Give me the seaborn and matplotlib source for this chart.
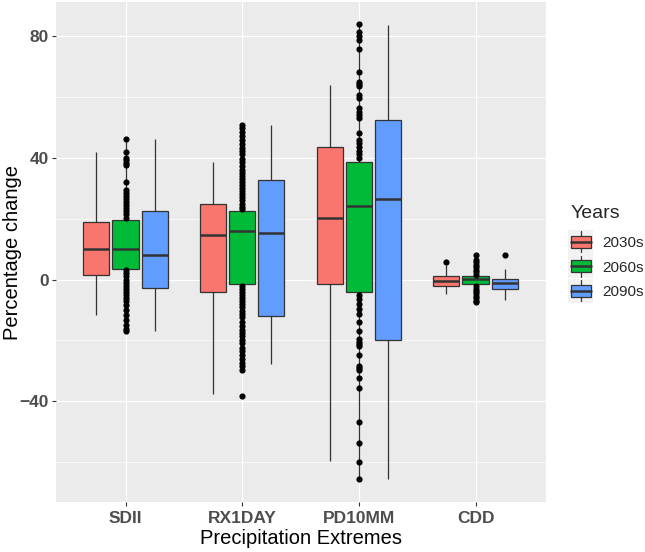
import pandas as pd
import seaborn as sns
import matplotlib.pyplot as plt
import matplotlib.patches as mpatches
from matplotlib.lines import Line2D
from matplotlib.legend_handler import HandlerBase
from matplotlib.ticker import MultipleLocator

extremes = ["SDII", "RX1DAY", "PD10MM", "CDD"]
years = ["2030s", "2060s", "2090s"]
colors = ["#F8766D", "#00BA38", "#619CFF"]

# box statistics, one row per year, one value per extreme
whisker_low = [[-11.7, -37.8, -59.7, -4.8],
               [-16.9, -29.8, -65.6, -7.3],
               [-16.9, -27.8, -65.5, -6.7]]
q1 = [[1.4, -4.1, -1.4, -2.0],
      [3.5, -1.5, -4.0, -1.6],
      [-2.7, -12.0, -19.8, -3.1]]
median = [[9.9, 14.6, 20.1, -0.4],
          [10.1, 16.1, 24.2, 0.1],
          [8.1, 15.4, 26.4, -1.25]]
q3 = [[18.9, 24.7, 43.6, 1.2],
      [19.5, 22.7, 38.8, 1.1],
      [22.6, 32.6, 52.5, 0.1]]
whisker_high = [[41.8, 38.8, 63.9, 4.8],
                [46.2, 50.8, 83.9, 8.1],
                [46.1, 50.8, 83.8, 3.4]]

# outlying points
sdii_2060s_out = [46.2, 42.0, 40.0, 39.2, 38.4, 37.7, 32.2, 29.4, 28.4, 27.4, 26.4,
                  25.4, 24.4, 23.4, 22.4, 21.4, 20.4, 3.0, 2.0, 1.0, 0.0, -1.0,
                  -2.0, -3.0, -4.0, -5.2, -6.1, -7.2, -8.4, -10.0, -11.7, -13.3,
                  -15.0, -16.3, -16.9]
rx1day_2060s_out = [50.8, 49.8, 48.6, 47.2, 45.8, 44.6, 43.4, 42.2, 41.2, 39.8, 38.6,
                    37.2, 36.0, 35.0, 34.0, 33.0, 32.0, 31.0, 30.0, 29.0, 28.0, 27.0,
                    26.0, 25.0, 24.0, 23.2, -2.2, -3.2, -4.2, -5.2, -6.2, -7.2, -8.2,
                    -9.2, -10.2, -11.2, -12.4, -13.9, -15.2, -16.5, -17.6, -18.7,
                    -19.8, -21.0, -22.4, -23.6, -24.9, -26.3, -27.4, -28.6, -29.8, -38.2]
pd10mm_2060s_out = [83.9, 81.3, 80.2, 78.8, 75.8, 68.2, 65.1, 64.4, 63.8, 60.6, 59.6,
                    56.3, 55.2, 54.1, 53.0, 48.1, 45.9, 44.8, 43.6, 42.4, 41.2, 39.9,
                    -5.1, -6.5, -8.1, -9.8, -11.4, -13.9, -16.8, -19.7, -20.4, -21.2,
                    -21.9, -24.8, -28.5, -29.2, -29.8, -32.5, -35.8, -46.8, -53.7,
                    -59.9, -65.6]
cdd_2030s_out = [5.9]
cdd_2060s_out = [8.1, 6.4, 5.6, 4.8, 4.0, 3.2, 2.4, 1.6, -2.2, -3.0, -3.8, -4.6,
                 -5.4, -6.2, -7.0, -7.3]
cdd_2090s_out = [8.1]

rows = []
for i, yr in enumerate(years):
    for j, ext in enumerate(extremes):
        for v in (whisker_low[i][j], q1[i][j], median[i][j], q3[i][j], whisker_high[i][j]):
            rows.append({"Extreme": ext, "Years": yr, "value": v})
box_df = pd.DataFrame(rows)

out_groups = [("SDII", "2060s", sdii_2060s_out), ("RX1DAY", "2060s", rx1day_2060s_out),
              ("PD10MM", "2060s", pd10mm_2060s_out), ("CDD", "2030s", cdd_2030s_out),
              ("CDD", "2060s", cdd_2060s_out), ("CDD", "2090s", cdd_2090s_out)]
out_rows = []
for ext, yr, vals in out_groups:
    for v in vals:
        out_rows.append({"Extreme": ext, "Years": yr, "value": v,
                         "xpos": extremes.index(ext) + (years.index(yr) - 1) * 0.25})
out_df = pd.DataFrame(out_rows)


class BoxKey(HandlerBase):
    # ggplot-like legend key: grey square, whisker, box and median
    def create_artists(self, legend, orig_handle, xdescent, ydescent, width, height,
                       fontsize, trans):
        x0, y0 = -xdescent, -ydescent
        cx, cy = x0 + width / 2, y0 + height / 2
        bg = mpatches.Rectangle((x0 - 1.8, cy - 8.6), width + 3.6, 17.2,
                                facecolor="#F2F2F2", edgecolor="none", transform=trans)
        whisk = Line2D([cx, cx], [cy - 7.5, cy + 7.5], color="#333333", lw=0.9,
                       transform=trans)
        box = mpatches.Rectangle((x0, y0), width, height,
                                 facecolor=orig_handle.get_facecolor(),
                                 edgecolor="#333333", lw=0.9, transform=trans)
        med = Line2D([x0, x0 + width], [cy, cy], color="#333333", lw=1.8,
                     transform=trans)
        return [bg, whisk, box, med]


sns.set_theme(style="darkgrid", rc={"axes.facecolor": "#EBEBEB", "grid.color": "white"})
plt.rcParams["font.family"] = ["Liberation Sans", "DejaVu Sans"]

fig = plt.figure(figsize=(6.45, 5.52), dpi=100)
ax = fig.add_axes([55.5 / 645, 50 / 552, 490 / 645, 500 / 552])

sns.boxplot(data=box_df, x="Extreme", y="value", hue="Years", order=extremes,
            hue_order=years, palette=colors, saturation=1, width=0.75, gap=0.1,
            whis=(0, 100), showfliers=False, showcaps=False, linewidth=0.9,
            linecolor="#333333", medianprops={"linewidth": 1.8}, legend=False, ax=ax)
sns.scatterplot(data=out_df, x="xpos", y="value", color="black", s=20,
                linewidth=0, legend=False, zorder=4, ax=ax)

ax.set_xlim(-0.6, 3.6)
ax.set_ylim(-73.2, 91.3)
ax.set_xticks(range(len(extremes)))
ax.set_xticklabels(extremes)
ax.set_yticks([-40, 0, 40, 80])
ax.yaxis.set_minor_locator(MultipleLocator(20))
ax.grid(which="major", color="white", linewidth=0.9)
ax.grid(which="minor", axis="y", color="white", linewidth=0.45)
ax.grid(which="minor", axis="x", visible=False)
for s in ax.spines.values():
    s.set_visible(False)
ax.tick_params(which="major", bottom=True, left=True, length=3, width=0.8,
               color="#333333", labelsize=12.5, labelcolor="#4D4D4D", pad=2)
ax.tick_params(axis="x", which="major", pad=3.5)
ax.tick_params(which="minor", bottom=False, left=False)
for lab in ax.get_xticklabels() + ax.get_yticklabels():
    lab.set_fontweight("bold")

ax.set_xlabel("Precipitation Extremes", fontsize=14.5, color="black", labelpad=2)
ax.set_ylabel("Percentage change", fontsize=14.5, color="black")
ax.yaxis.set_label_coords(-0.068, 0.5)

handles = [mpatches.Patch(facecolor=c) for c in colors]
leg = fig.legend(handles, years, title="Years", loc="upper left",
                 bbox_to_anchor=(570.5 / 645, 1 - 205 / 552), frameon=False,
                 fontsize=11, title_fontsize=14, handlelength=1.31, handleheight=0.83,
                 handletextpad=0.79, labelspacing=0.66, borderpad=0, borderaxespad=0,
                 handler_map={mpatches.Patch: BoxKey()})
leg._legend_box.align = "left"
leg._legend_box.sep = 10

fig.savefig("out.png", dpi=100)
